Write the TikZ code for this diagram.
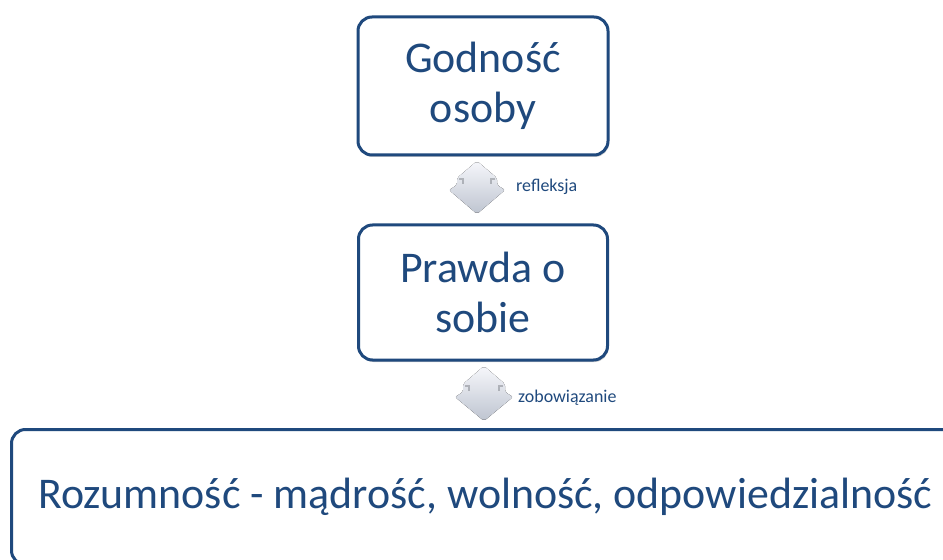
\documentclass[tikz,border=0pt]{standalone}
\usepackage{fontspec}
\setmainfont{Carlito}
\usetikzlibrary{shadows,calc}
\definecolor{boxline}{RGB}{31,73,125}
\definecolor{boxtext}{RGB}{31,73,125}
\definecolor{arrtop}{RGB}{246,247,251}
\definecolor{arrbot}{RGB}{190,196,208}
\tikzset{
  box/.style={draw=boxline, line width=3bp, rounded corners=14bp, fill=white,
    text=boxtext, align=center, inner sep=0pt,
    drop shadow={shadow xshift=1bp, shadow yshift=-2bp, opacity=0.18, fill=black}},
  big/.style={font=\fontsize{44}{50}\selectfont},
  lbl/.style={text=boxtext, font=\fontsize{18}{21}\selectfont, anchor=west, inner sep=0pt},
  arrowshape/.style={top color=arrtop, bottom color=arrbot, draw=none, rounded corners=2bp}
}
\begin{document}
\begin{tikzpicture}[x=1bp,y=-1bp]
\useasboundingbox (0,0) rectangle (943,560);
\begin{scope}
\clip (0,0) rectangle (943,560);
% boxes
\node[box, minimum width=250bp, minimum height=138bp, big] (b1) at (483,86) {Godność\\osoby};
\node[box, minimum width=249bp, minimum height=135bp, big] (b2) at (483,292.5) {Prawda o\\sobie};
\node[box, minimum width=950bp, minimum height=135bp, big, anchor=north west] (b3) at (10,428) {};
\node[text=boxtext, big, anchor=west, inner sep=0pt] (t3) at (38,497) {Rozumność - mądrość, wolność, odpowiedzialność};
\end{scope}
% arrow 1
\coordinate (a1) at (477,188);
\fill[arrowshape]
  ($(a1)+(0,-27)$) -- ($(a1)+(-20,-10)$) -- ($(a1)+(-20,-3)$) -- ($(a1)+(-28,2)$)
  -- ($(a1)+(0,26)$) -- ($(a1)+(28,2)$) -- ($(a1)+(20,-3)$) -- ($(a1)+(20,-10)$) -- cycle;
\draw[arrbot!60!black, line width=1.2bp, opacity=0.45]
  ($(a1)+(-18,-9)$) -- ($(a1)+(-14,-9)$) -- ($(a1)+(-14,-4)$)
  ($(a1)+(18,-9)$) -- ($(a1)+(14,-9)$) -- ($(a1)+(14,-4)$);
\node[lbl] (l1) at (516,187) {refleksja};
% arrow 2
\coordinate (a2) at (484,396);
\fill[arrowshape]
  ($(a2)+(0,-30)$) -- ($(a2)+(-21,-12)$) -- ($(a2)+(-21,-4)$) -- ($(a2)+(-29,1)$)
  -- ($(a2)+(0,25)$) -- ($(a2)+(29,1)$) -- ($(a2)+(21,-4)$) -- ($(a2)+(21,-12)$) -- cycle;
\draw[arrbot!60!black, line width=1.2bp, opacity=0.45]
  ($(a2)+(-19,-10)$) -- ($(a2)+(-15,-10)$) -- ($(a2)+(-15,-5)$)
  ($(a2)+(19,-10)$) -- ($(a2)+(15,-10)$) -- ($(a2)+(15,-5)$);
\node[lbl] (l2) at (518,398) {zobowiązanie};
\end{tikzpicture}
\end{document}
